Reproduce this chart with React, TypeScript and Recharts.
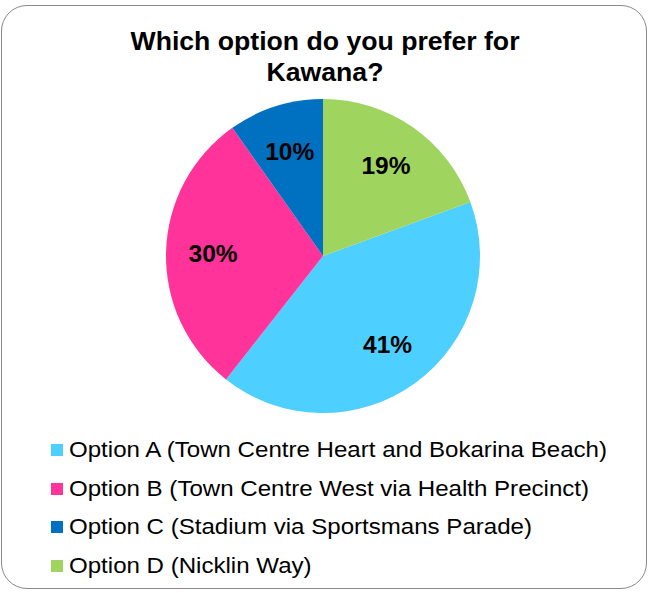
import { PieChart, Pie, Cell, Legend } from 'recharts'

const options = [
  'Option A (Town Centre Heart and Bokarina Beach)',
  'Option B (Town Centre West via Health Precinct)',
  'Option C (Stadium via Sportsmans Parade)',
  'Option D (Nicklin Way)',
]
const shares = [41.2, 29.6, 9.8, 19.4]
const colors = ['#4dcfff', '#ff3399', '#0070c0', '#9fd45f']

const data = options.map((name, i) => ({ name, value: shares[i] }))
const total = shares.reduce((a, b) => a + b, 0)
// Option A starts where Option D (last slice) ends at 12 o'clock
const start = 90 - (360 * shares[3]) / total

const RAD = Math.PI / 180
const font = '"Liberation Sans", Arial, sans-serif'

const renderLabel = (p: any) => {
  const r = p.outerRadius * 0.7
  const x = p.cx + r * Math.cos(-p.midAngle * RAD)
  const y = p.cy + r * Math.sin(-p.midAngle * RAD)
  return (
    <text x={x} y={y} textAnchor="middle" dominantBaseline="central"
      fontFamily={font} fontSize={24.5} fontWeight="bold" fill="#000">
      {Math.round(p.percent * 100)}%
    </text>
  )
}

const renderLegend = () => (
  <div style={{ fontFamily: font, fontSize: 22.5, color: '#000' }}>
    {options.map((name, i) => (
      <div key={name} style={{ display: 'flex', alignItems: 'center', height: 38.5 }}>
        <span style={{ width: 12, height: 12, background: colors[i], marginRight: 6, flexShrink: 0 }} />
        <span style={{ display: 'inline-block', transform: 'scaleX(1.07)', transformOrigin: 'left center', whiteSpace: 'nowrap' }}>
          {name}
        </span>
      </div>
    ))}
  </div>
)

export default function App() {
  return (
    <div style={{ position: 'absolute', left: 0, top: 0, width: 650, height: 593, background: '#fff' }}>
      <div style={{
        position: 'absolute', left: 1, top: 5, width: 646, height: 584,
        border: '1.5px solid #8a8a8a', borderRadius: 26, boxSizing: 'border-box',
      }} />
      <div style={{
        position: 'absolute', left: 0, top: 26, width: 650, textAlign: 'center',
        fontFamily: font, fontSize: 25, fontWeight: 'bold', lineHeight: '31px', color: '#000',
        transform: 'scaleX(1.065)', transformOrigin: '325px 0',
      }}>
        Which option do you prefer for<br />Kawana?
      </div>
      <PieChart width={650} height={593} margin={{ top: 0, right: 0, bottom: 0, left: 0 }}
        style={{ position: 'absolute', left: 0, top: 0 }}>
        <Pie
          data={data}
          dataKey="value"
          nameKey="name"
          cx={323}
          cy={256}
          outerRadius={157}
          startAngle={start}
          endAngle={start - 360}
          stroke="none"
          label={renderLabel}
          labelLine={false}
          isAnimationActive={false}
        >
          {data.map((d, i) => <Cell key={d.name} fill={colors[i]} />)}
        </Pie>
        <Legend
          content={renderLegend}
          layout="vertical"
          wrapperStyle={{ position: 'absolute', left: 51, top: 431, width: 590 }}
        />
      </PieChart>
    </div>
  )
}
